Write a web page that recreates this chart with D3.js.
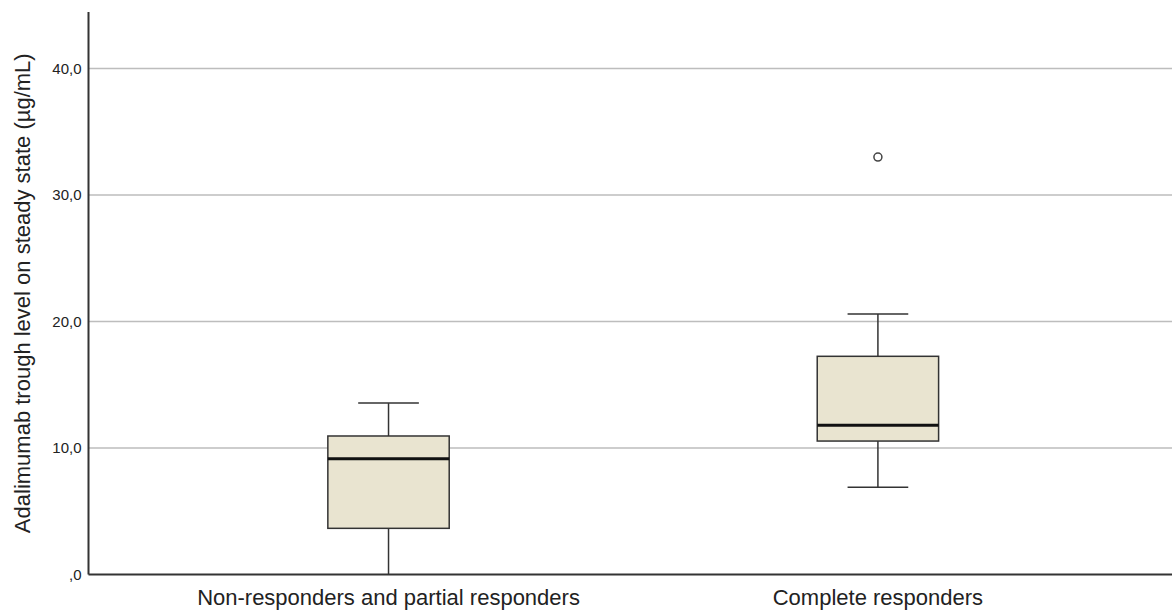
<!DOCTYPE html>
<html>
<head>
<meta charset="utf-8">
<script src="https://cdn.jsdelivr.net/npm/d3@7"></script>
<style>
  body { margin: 0; background: #fff; }
  text { font-family: "Liberation Sans", Arial, sans-serif; fill: #222; }
</style>
</head>
<body>
<div id="chart"></div>
<script>
// values
const groups = ['Non-responders and partial responders', 'Complete responders'];
const whiskerLow = [0, 6.9];
const q1 = [3.65, 10.55];
const median = [9.15, 11.8];
const q3 = [10.95, 17.25];
const whiskerHigh = [13.55, 20.6];
const outliers = [[], [33.0]];
const yTicks = [0, 10, 20, 30, 40];

const width = 1172;
const height = 611;
const margin = {top: 12, right: 0, bottom: 36.5, left: 88.5};

const svg = d3.select('#chart')
  .append('svg')
  .attr('width', width)
  .attr('height', height);

const x = d3.scalePoint()
  .domain(groups)
  .range([margin.left, width - margin.right])
  .padding(0.607)
  .align(0.505);

const y = d3.scaleLinear()
  .domain([0, 44.47])
  .range([height - margin.bottom, margin.top]);

const boxW = x.step() * 0.248;
const fmt = d => (d === 0 ? ',0' : d3.format('.1f')(d).replace('.', ','));

// gridlines
svg.append('g')
  .selectAll('line')
  .data(yTicks.filter(d => d > 0))
  .join('line')
  .attr('x1', margin.left)
  .attr('x2', width)
  .attr('y1', d => y(d))
  .attr('y2', d => y(d))
  .attr('stroke', '#bdbdbd')
  .attr('stroke-width', 1.5);

// y axis
const yAxis = svg.append('g')
  .attr('transform', `translate(${margin.left},0)`)
  .call(d3.axisLeft(y).tickValues(yTicks).tickFormat(fmt).tickSize(0).tickPadding(7));
yAxis.select('.domain').remove();
yAxis.selectAll('text')
  .style('font-size', '15px')
  .attr('fill', '#222');

svg.append('line')
  .attr('x1', margin.left).attr('x2', margin.left)
  .attr('y1', margin.top).attr('y2', y(0))
  .attr('stroke', '#333').attr('stroke-width', 2);

// boxes
const data = groups.map((g, i) => ({
  g, lo: whiskerLow[i], q1: q1[i], med: median[i], q3: q3[i], hi: whiskerHigh[i], out: outliers[i]
}));

const box = svg.append('g')
  .selectAll('g')
  .data(data)
  .join('g')
  .attr('transform', d => `translate(${x(d.g)},0)`);

box.append('line')
  .attr('x1', 0).attr('x2', 0)
  .attr('y1', d => y(d.lo)).attr('y2', d => y(d.hi))
  .attr('stroke', '#333').attr('stroke-width', 1.5);

box.selectAll('.cap')
  .data(d => [d.lo, d.hi].filter(v => v > 0))
  .join('line')
  .attr('class', 'cap')
  .attr('x1', -boxW / 4).attr('x2', boxW / 4)
  .attr('y1', v => y(v)).attr('y2', v => y(v))
  .attr('stroke', '#333').attr('stroke-width', 1.5);

box.append('rect')
  .attr('x', -boxW / 2)
  .attr('width', boxW)
  .attr('y', d => y(d.q3))
  .attr('height', d => y(d.q1) - y(d.q3))
  .attr('fill', '#e9e4d0')
  .attr('stroke', '#333')
  .attr('stroke-width', 1.5);

box.append('line')
  .attr('x1', -boxW / 2).attr('x2', boxW / 2)
  .attr('y1', d => y(d.med)).attr('y2', d => y(d.med))
  .attr('stroke', '#111').attr('stroke-width', 3);

box.selectAll('circle')
  .data(d => d.out)
  .join('circle')
  .attr('cx', 0)
  .attr('cy', v => y(v))
  .attr('r', 4)
  .attr('fill', 'none')
  .attr('stroke', '#444')
  .attr('stroke-width', 1.5);

// x axis
svg.append('line')
  .attr('x1', margin.left).attr('x2', width)
  .attr('y1', y(0)).attr('y2', y(0))
  .attr('stroke', '#333').attr('stroke-width', 2);

svg.append('g')
  .selectAll('text')
  .data(groups)
  .join('text')
  .attr('x', d => x(d))
  .attr('y', 605)
  .attr('text-anchor', 'middle')
  .style('font-size', '22px')
  .text(d => d);

// y title
svg.append('text')
  .attr('transform', `translate(30,${(margin.top + y(0)) / 2}) rotate(-90)`)
  .attr('text-anchor', 'middle')
  .style('font-size', '22px')
  .text('Adalimumab trough level on steady state (µg/mL)');
</script>
</body>
</html>
